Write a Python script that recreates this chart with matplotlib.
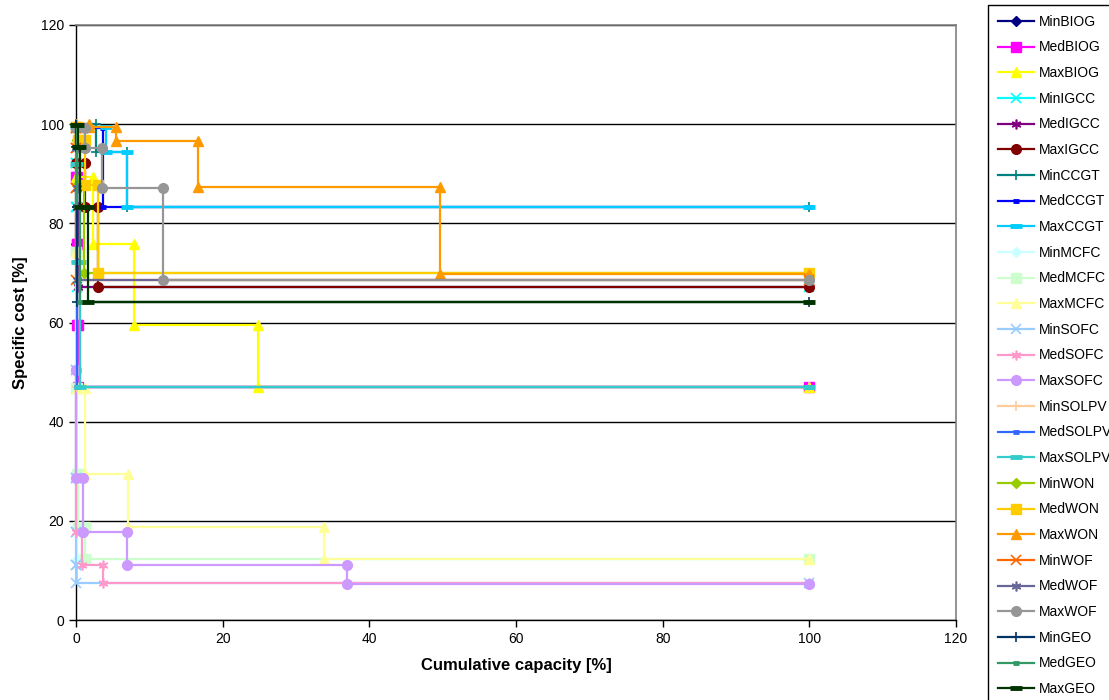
import matplotlib
matplotlib.use("Agg")
import matplotlib.pyplot as plt

plt.rcParams['font.family'] = ['Liberation Sans', 'DejaVu Sans']

# ---- data: cumulative capacity (right end of each step, %) and specific cost (%) ----
MinBIOG_cap = [0.05, 0.1, 0.15, 100]
MinBIOG_cost = [89.3, 75.8, 59.5, 47.0]
MedBIOG_cap = [0.1, 0.2, 0.3, 100]
MedBIOG_cost = [89.3, 75.8, 59.5, 47.0]
MaxBIOG_cap = [2.3, 7.9, 24.8, 100]
MaxBIOG_cost = [89.3, 75.8, 59.5, 47.0]

MinIGCC_cap = [0.05, 0.1, 100]
MinIGCC_cost = [92.1, 83.3, 67.2]
MedIGCC_cap = [0.1, 0.3, 100]
MedIGCC_cost = [92.1, 83.3, 67.2]
MaxIGCC_cap = [1.2, 3.0, 100]
MaxIGCC_cost = [92.1, 83.3, 67.2]

MinCCGT_cap = [2.7, 6.9, 100]
MinCCGT_cost = [100.0, 94.4, 83.3]
MedCCGT_cap = [3.7, 100]
MedCCGT_cost = [99.2, 83.3]
MaxCCGT_cap = [4.1, 6.9, 100]
MaxCCGT_cost = [99.5, 94.4, 83.3]

MinMCFC_cap = [0.02, 0.04, 0.06, 0.08, 100]
MinMCFC_cost = [74.2, 46.8, 29.5, 18.7, 12.3]
MedMCFC_cap = [0.05, 0.1, 0.3, 1.2, 100]
MedMCFC_cost = [74.2, 46.8, 29.5, 18.7, 12.3]
MaxMCFC_cap = [0.2, 1.2, 7.1, 33.8, 100]
MaxMCFC_cost = [74.2, 46.8, 29.5, 18.7, 12.3]

MinSOFC_cap = [0.005, 0.01, 0.015, 0.02, 100]
MinSOFC_cost = [50.4, 28.6, 17.7, 11.1, 7.4]
MedSOFC_cap = [0.01, 0.02, 0.8, 3.7, 100]
MedSOFC_cost = [50.4, 28.6, 17.7, 11.1, 7.4]
MaxSOFC_cap = [0.02, 1.0, 7.0, 36.9, 100]
MaxSOFC_cost = [50.4, 28.6, 17.7, 11.1, 7.3]

MinSOLPV_cap = [0.05, 0.1, 100]
MinSOLPV_cost = [92.0, 72.2, 47.0]
MedSOLPV_cap = [0.1, 0.2, 100]
MedSOLPV_cost = [92.0, 72.2, 47.0]
MaxSOLPV_cap = [0.2, 0.5, 100]
MaxSOLPV_cost = [92.0, 72.2, 47.0]

MinWON_cap = [0.1, 0.2, 1.1, 100]
MinWON_cost = [99.5, 96.8, 87.7, 70.0]
MedWON_cap = [0.3, 1.2, 3.0, 100]
MedWON_cost = [99.5, 96.8, 87.7, 70.0]
MaxWON_cap = [1.8, 5.5, 16.6, 49.6, 100]
MaxWON_cost = [100.0, 99.4, 96.6, 87.4, 69.8]

MinWOF_cap = [0.02, 0.04, 0.06, 100]
MinWOF_cost = [99.2, 95.1, 87.1, 68.6]
MedWOF_cap = [0.05, 0.1, 0.2, 100]
MedWOF_cost = [99.2, 95.1, 87.1, 68.6]
MaxWOF_cap = [1.2, 3.5, 11.9, 100]
MaxWOF_cost = [99.2, 95.1, 87.1, 68.6]

MinGEO_cap = [0.05, 0.1, 0.2, 100]
MinGEO_cost = [99.8, 95.4, 83.3, 64.1]
MedGEO_cap = [0.1, 0.2, 0.5, 100]
MedGEO_cost = [99.8, 95.4, 83.3, 64.1]
MaxGEO_cap = [0.3, 0.6, 1.7, 100]
MaxGEO_cost = [99.8, 95.4, 83.3, 64.1]

series_names = ['MinBIOG', 'MedBIOG', 'MaxBIOG', 'MinIGCC', 'MedIGCC', 'MaxIGCC',
                'MinCCGT', 'MedCCGT', 'MaxCCGT', 'MinMCFC', 'MedMCFC', 'MaxMCFC',
                'MinSOFC', 'MedSOFC', 'MaxSOFC', 'MinSOLPV', 'MedSOLPV', 'MaxSOLPV',
                'MinWON', 'MedWON', 'MaxWON', 'MinWOF', 'MedWOF', 'MaxWOF',
                'MinGEO', 'MedGEO', 'MaxGEO']

data = {
    'MinBIOG': (MinBIOG_cap, MinBIOG_cost), 'MedBIOG': (MedBIOG_cap, MedBIOG_cost),
    'MaxBIOG': (MaxBIOG_cap, MaxBIOG_cost), 'MinIGCC': (MinIGCC_cap, MinIGCC_cost),
    'MedIGCC': (MedIGCC_cap, MedIGCC_cost), 'MaxIGCC': (MaxIGCC_cap, MaxIGCC_cost),
    'MinCCGT': (MinCCGT_cap, MinCCGT_cost), 'MedCCGT': (MedCCGT_cap, MedCCGT_cost),
    'MaxCCGT': (MaxCCGT_cap, MaxCCGT_cost), 'MinMCFC': (MinMCFC_cap, MinMCFC_cost),
    'MedMCFC': (MedMCFC_cap, MedMCFC_cost), 'MaxMCFC': (MaxMCFC_cap, MaxMCFC_cost),
    'MinSOFC': (MinSOFC_cap, MinSOFC_cost), 'MedSOFC': (MedSOFC_cap, MedSOFC_cost),
    'MaxSOFC': (MaxSOFC_cap, MaxSOFC_cost), 'MinSOLPV': (MinSOLPV_cap, MinSOLPV_cost),
    'MedSOLPV': (MedSOLPV_cap, MedSOLPV_cost), 'MaxSOLPV': (MaxSOLPV_cap, MaxSOLPV_cost),
    'MinWON': (MinWON_cap, MinWON_cost), 'MedWON': (MedWON_cap, MedWON_cost),
    'MaxWON': (MaxWON_cap, MaxWON_cost), 'MinWOF': (MinWOF_cap, MinWOF_cost),
    'MedWOF': (MedWOF_cap, MedWOF_cost), 'MaxWOF': (MaxWOF_cap, MaxWOF_cost),
    'MinGEO': (MinGEO_cap, MinGEO_cost), 'MedGEO': (MedGEO_cap, MedGEO_cost),
    'MaxGEO': (MaxGEO_cap, MaxGEO_cost),
}

# ---- styles (Excel default palette) ----
colors = ['#000080', '#FF00FF', '#FFFF00', '#00FFFF', '#800080', '#800000',
          '#008080', '#0000FF', '#00CCFF', '#CCFFFF', '#CCFFCC', '#FFFF99',
          '#99CCFF', '#FF99CC', '#CC99FF', '#FFCC99', '#3366FF', '#33CCCC',
          '#99CC00', '#FFCC00', '#FF9900', '#FF6600', '#666699', '#969696',
          '#003366', '#339966', '#003300']
marker_cycle = ['D', 's', '^', 'x', (6, 2, 0), 'o', '+', 'shortdash', 'longdash']


def marker_kw(m):
    if m == 'shortdash':
        return dict(marker='_', markersize=5, markeredgewidth=3.5)
    if m == 'longdash':
        return dict(marker='_', markersize=9, markeredgewidth=3.5)
    if m in ('x', '+', (6, 2, 0)):
        return dict(marker=m, markersize=7, markeredgewidth=1.2)
    if m == 'D':
        return dict(marker=m, markersize=5.5, markeredgewidth=1)
    if m == 's':
        return dict(marker=m, markersize=6.5, markeredgewidth=1)
    return dict(marker=m, markersize=7, markeredgewidth=1)


def steps(caps, costs):
    xs, ys = [], []
    start = 0.0
    for c, y in zip(caps, costs):
        xs += [start, c]
        ys += [y, y]
        start = c
    return xs, ys


fig = plt.figure(figsize=(11.09, 7.0), dpi=100)
ax = fig.add_axes([76 / 1109, 80 / 700, 880 / 1109, 595 / 700])

handles = []
for i, name in enumerate(series_names):
    caps, costs = data[name]
    xs, ys = steps(caps, costs)
    col = colors[i]
    mk = marker_kw(marker_cycle[i % 9])
    ln, = ax.plot(xs, ys, color=col, lw=1.6, markerfacecolor=col, markeredgecolor=col,
                  zorder=3 + i * 0.01, clip_on=False, label=name, **mk)
    handles.append(ln)

ax.set_xlim(0, 120)
ax.set_ylim(0, 120)
ax.set_xticks(range(0, 121, 20))
ax.set_yticks(range(0, 121, 20))
ax.yaxis.grid(True, color='black', lw=1)
ax.set_axisbelow(True)
for s in ['top', 'right']:
    ax.spines[s].set_color('#808080')
    ax.spines[s].set_linewidth(1.2)
    ax.spines[s].set_zorder(2.5)
for s in ['left', 'bottom']:
    ax.spines[s].set_color('black')
    ax.spines[s].set_linewidth(1)
ax.tick_params(axis='both', direction='out', length=5, width=1, labelsize=10, colors='black')

ax.set_xlabel('Cumulative capacity [%]', fontsize=12, fontweight='bold', labelpad=9)
ax.set_ylabel('Specific cost [%]', fontsize=12, fontweight='bold', labelpad=9)

leg = fig.legend(handles=handles, loc='upper left', bbox_to_anchor=(988 / 1109, 1 - 5 / 700),
                 bbox_transform=fig.transFigure, frameon=True, fancybox=False,
                 edgecolor='black', framealpha=1, fontsize=10, labelspacing=0.84,
                 handlelength=2.6, handletextpad=0.35, borderpad=0.7, borderaxespad=0)
leg.get_frame().set_linewidth(1)

fig.savefig('out.png', dpi=100)
